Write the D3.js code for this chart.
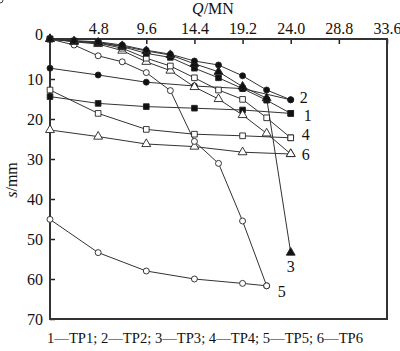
<!DOCTYPE html>
<html><head><meta charset="utf-8">
<script src="https://cdn.jsdelivr.net/npm/d3@7/dist/d3.min.js"></script>
<style>body{margin:0;background:#fff}svg{display:block}</style>
</head><body>
<svg id="c" width="400" height="351"></svg>
<script>
// ---- data ----
const qMain = [0, 2.4, 4.8, 7.2, 9.6, 12, 14.4, 16.8, 19.2, 21.6, 24];
const qOffset = [0, 4.8, 9.6, 14.4, 19.2, 24];
const qOffset5 = [0, 4.8, 9.6, 14.4, 19.2, 21.6];
const tp1 = [0, 0.5, 0.9, 1.9, 3.6, 4.6, 7.3, 9.7, 12.4, 15.3, 18.6];
const tp2 = [0, 0.4, 0.7, 1.5, 2.8, 3.8, 5.5, 6.5, 9.2, 12.75, 15.2];
const tp3 = [0, 0.6, 0.9, 1.75, 3.0, 4.0, 6.2, 8.2, 11.9, 14.8, 53.4];
const tp4 = [0, 0.6, 1.0, 2.3, 4.8, 6.75, 9.7, 12.75, 15.1, 19.7, 24.7];
const tp5 = [0, 1.5, 4.2, 5.7, 8.4, 12.9, 25.6, 31.1, 45.5, 61.7];
const tp6 = [0, 0.7, 1.25, 2.9, 5.7, 7.9, 12.0, 15.0, 19.0, 23.6, 28.75];
const tp1b = [14.4, 16.1, 16.9, 17.3, 17.75, 18.6];
const tp2b = [7.3, 9.0, 10.8, 11.75, 12.4, 15.2];
const tp4b = [12.75, 18.6, 22.6, 23.8, 24.2, 24.7];
const tp5b = [45.1, 53.4, 58.0, 60.0, 61.1, 61.7];
const tp6b = [22.75, 24.4, 26.25, 26.9, 28.3, 28.75];
const xTicks = [4.8, 9.6, 14.4, 19.2, 24.0, 28.8, 33.6];
const yTicks = [10, 20, 30, 40, 50, 60, 70];
const endLabels = [
  {t: "2", q: 24, s: 15.2}, {t: "1", q: 24, s: 18.6}, {t: "4", q: 24, s: 24.7},
  {t: "6", q: 24, s: 28.75}, {t: "3", q: 24, s: 53.4}, {t: "5", q: 21.6, s: 61.7}
];
const caption = "1—TP1; 2—TP2; 3—TP3; 4—TP4; 5—TP5; 6—TP6";

// ---- series table ----
const series = [
  {q: qOffset, s: tp1b, m: "square", fill: true},
  {q: qOffset, s: tp2b, m: "circle", fill: true},
  {q: qOffset, s: tp4b, m: "square", fill: false},
  {q: qOffset5, s: tp5b, m: "circle", fill: false},
  {q: qOffset, s: tp6b, m: "triangle", fill: false},
  {q: qMain, s: tp6, m: "triangle", fill: false},
  {q: qMain, s: tp5, m: "circle", fill: false},
  {q: qMain, s: tp4, m: "square", fill: false},
  {q: qMain, s: tp1, m: "square", fill: true},
  {q: qMain, s: tp3, m: "triangle", fill: true},
  {q: qMain, s: tp2, m: "circle", fill: true}
];

const svg = d3.select("#c");
const x = d3.scaleLinear().domain([0, 33.6]).range([50, 387]);
const y = d3.scaleLinear().domain([0, 70]).range([39, 319]);
const ink = "#222";
const font = "'Liberation Serif', 'Times New Roman', serif";

// axes
const gx = svg.append("g").attr("transform", `translate(0,${y(0)})`)
  .call(d3.axisTop(x).tickValues(xTicks).tickFormat(d3.format(".1f")).tickSize(-5).tickPadding(5));
const gy = svg.append("g").attr("transform", `translate(${x(0)},0)`)
  .call(d3.axisLeft(y).tickValues(yTicks).tickFormat(d3.format("d")).tickSize(-5).tickPadding(7));
[gx, gy].forEach(g => {
  g.select(".domain").remove();
  g.selectAll(".tick line").attr("stroke", ink).attr("stroke-width", 1.5);
  g.selectAll("text").attr("fill", "#111").style("font-family", font).style("font-size", "16px");
});
gy.selectAll("text").attr("dy", "0.35em");

// frame
svg.append("rect").attr("x", x(0)).attr("y", y(0)).attr("width", x(33.6) - x(0)).attr("height", y(70) - y(0))
  .attr("fill", "none").attr("stroke", "#333").attr("stroke-width", 2);

svg.append("text").attr("x", x(0) - 7).attr("y", y(0) + 1).attr("text-anchor", "end")
  .style("font-family", font).style("font-size", "16px").attr("fill", "#111").text("0");

// axis titles
const qt = svg.append("text").attr("x", 213).attr("y", 14).attr("text-anchor", "middle")
  .style("font-family", font).style("font-size", "16px").attr("fill", "#111");
qt.append("tspan").style("font-style", "italic").text("Q");
qt.append("tspan").text("/MN");
const st = svg.append("text").attr("transform", "translate(17,180) rotate(-90)").attr("text-anchor", "middle")
  .style("font-family", font).style("font-size", "16px").attr("fill", "#111");
st.append("tspan").style("font-style", "italic").text("s");
st.append("tspan").text("/mm");

// lines
const line = d3.line().x(d => x(d[0])).y(d => y(d[1]));
series.forEach(sr => {
  const pts = sr.q.map((q, i) => [q, sr.s[i]]);
  svg.append("path").attr("d", line(pts)).attr("fill", "none").attr("stroke", "#333").attr("stroke-width", 1);
});
// markers
const sym = {circle: d3.symbolCircle, square: d3.symbolSquare, triangle: d3.symbolTriangle};
const size = {circle: 28, square: 32, triangle: 34};
series.forEach(sr => {
  const pts = sr.q.map((q, i) => [q, sr.s[i]]);
  svg.append("g").selectAll("path").data(pts).join("path")
    .attr("transform", d => `translate(${x(d[0])},${y(d[1])})`)
    .attr("d", d3.symbol(sym[sr.m], size[sr.m]))
    .attr("fill", sr.fill ? "#111" : "#fff").attr("stroke", "#222").attr("stroke-width", 0.9);
});

// end labels
const offs = {"2": [9, 3], "1": [13, 8], "4": [11, 2], "6": [11, 6], "3": [-4, 19], "5": [11, 11]};
svg.append("g").selectAll("text").data(endLabels).join("text")
  .attr("x", d => x(d.q) + offs[d.t][0]).attr("y", d => y(d.s) + offs[d.t][1])
  .style("font-family", font).style("font-size", "16px").attr("fill", "#111").text(d => d.t);

svg.append("text").attr("x", 47).attr("y", 343).attr("textLength", 316).attr("lengthAdjust", "spacingAndGlyphs")
  .style("font-family", font).style("font-size", "14px")
  .attr("fill", "#111").text(caption);
</script>
</body></html>
